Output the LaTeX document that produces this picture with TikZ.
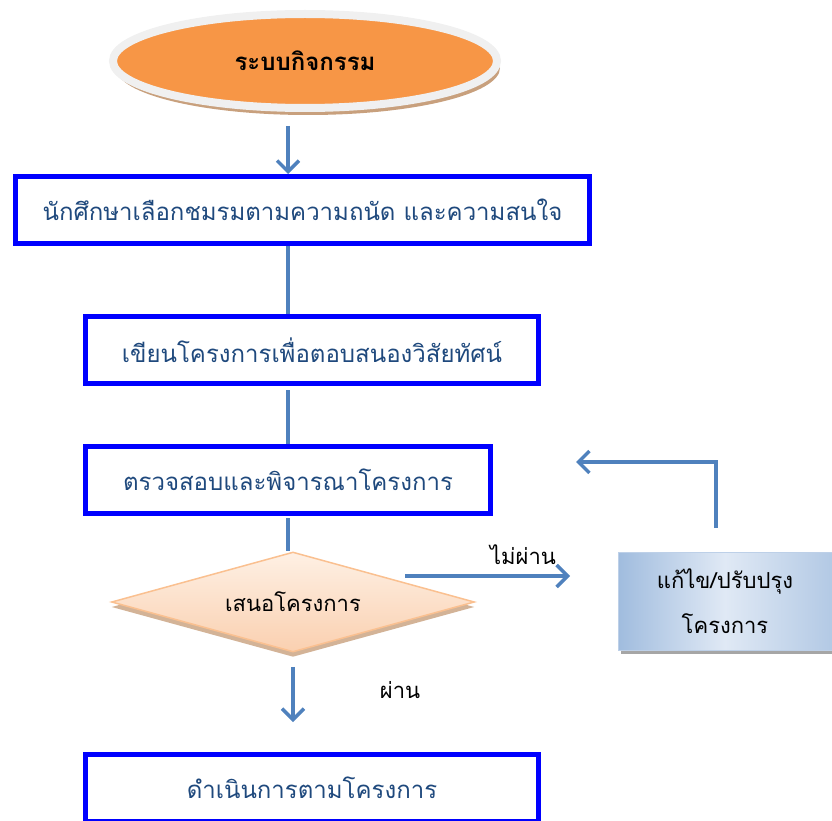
\documentclass[tikz,border=0pt]{standalone}
\usepackage{fontspec}
\newfontfamily\thaifont[Script=Thai]{Loma}
\definecolor{myBlue}{RGB}{0,0,255}
\definecolor{myNavy}{RGB}{31,73,125}
\definecolor{myLine}{RGB}{79,129,189}
\definecolor{myOrange}{RGB}{247,150,70}
\definecolor{myRing}{RGB}{240,240,240}
\definecolor{myTan}{RGB}{200,160,125}
\definecolor{myPeach}{RGB}{254,240,228}
\definecolor{myPeachDark}{RGB}{250,208,176}
\definecolor{myPeachEdge}{RGB}{250,192,144}
\definecolor{mySky}{RGB}{224,233,245}
\definecolor{mySkyDark}{RGB}{160,188,222}
\usetikzlibrary{arrows.meta,positioning,shapes.geometric,shadows}

\tikzset{
  flow/.style={line width=3.5pt, draw=myLine, -{Straight Barb[length=11pt,width=22pt,line width=3.5pt]}},
  link/.style={line width=3.5pt, draw=myLine},
  stepbox/.style={draw=myBlue, line width=5pt, inner sep=0pt, minimum height=67pt,
    text=myNavy, font=\thaifont\fontsize{24}{28}\selectfont},
  startell/.style={ellipse, fill=myOrange, draw=myRing, line width=8pt,
    minimum width=384pt, minimum height=94pt, inner sep=0pt,
    drop shadow={shadow xshift=3pt, shadow yshift=-7pt, fill=myTan, opacity=1},
    font=\thaifont\bfseries\fontsize{24}{28}\selectfont},
  decide/.style={diamond, aspect=3.63, minimum width=363pt, minimum height=100pt,
    inner sep=0pt, top color=myPeach, bottom color=myPeachDark, draw=myPeachEdge,
    line width=1.5pt, drop shadow={shadow xshift=0pt, shadow yshift=-5pt, fill=myTan!80, opacity=1},
    font=\thaifont\fontsize{22}{26}\selectfont},
  fixbox/.style={rectangle, minimum width=214pt, minimum height=98pt, inner sep=0pt,
    left color=mySkyDark, right color=mySkyDark!80, middle color=mySky,
    draw=mySkyDark!70, line width=1pt, align=center,
    drop shadow={shadow xshift=3pt, shadow yshift=-4pt, fill=black!35, opacity=1},
    font=\thaifont\fontsize{22}{45}\selectfont},
  tag/.style={font=\thaifont\fontsize{22}{26}\selectfont}
}

\begin{document}
\begin{tikzpicture}[x=1pt,y=-1pt]
\useasboundingbox (0,0) rectangle (832,821);
\coordinate (spine) at (288,0);

% steps
\node[startell] (start) at (305,61) {ระบบกิจกรรม};
\node[stepbox, minimum width=574pt] (choose) at (302.5,210) {นักศึกษาเลือกชมรมตามความถนัด และความสนใจ};
\node[stepbox, minimum width=453pt] (write) at (312,350) {เขียนโครงการเพื่อตอบสนองวิสัยทัศน์};
\node[stepbox, minimum width=405pt] (check) at (288,480) {ตรวจสอบและพิจารณาโครงการ};
\node[decide] (propose) at (293,602) {เสนอโครงการ};
\node[fixbox] (fix) at (725,601) {แก้ไข/ปรับปรุง\\โครงการ};
\node[stepbox, minimum width=453pt] (run) at (312,788) {ดำเนินการตามโครงการ};

% labels
\node[tag] (fail) at (523,555) {ไม่ผ่าน};
\node[tag] (pass) at (400,690) {ผ่าน};

% connectors
\draw[flow] ([yshift=-14pt]start.south -| spine) -- (choose.north -| spine);
\draw[link] (choose.south -| spine) -- (write.north -| spine);
\draw[link] ([yshift=-4pt]write.south -| spine) -- (check.north -| spine);
\draw[link] ([yshift=-2pt]check.south -| spine) -- (propose.north -| spine);
\coordinate (nostart) at (405,576);
\coordinate (noend) at (570,576);
\draw[flow] (nostart) -- (noend);
\coordinate (fbstart) at (716,528);
\coordinate (fbtop) at (716,460);
\coordinate (fbend) at (576,462);
\draw[link] (fbstart) -- (fbtop);
\draw[flow] (fbtop |- fbend) -- (fbend);
\draw[flow] ([yshift=-14pt]propose.south) -- ([yshift=30pt]run.north -| propose);
\end{tikzpicture}
\end{document}
